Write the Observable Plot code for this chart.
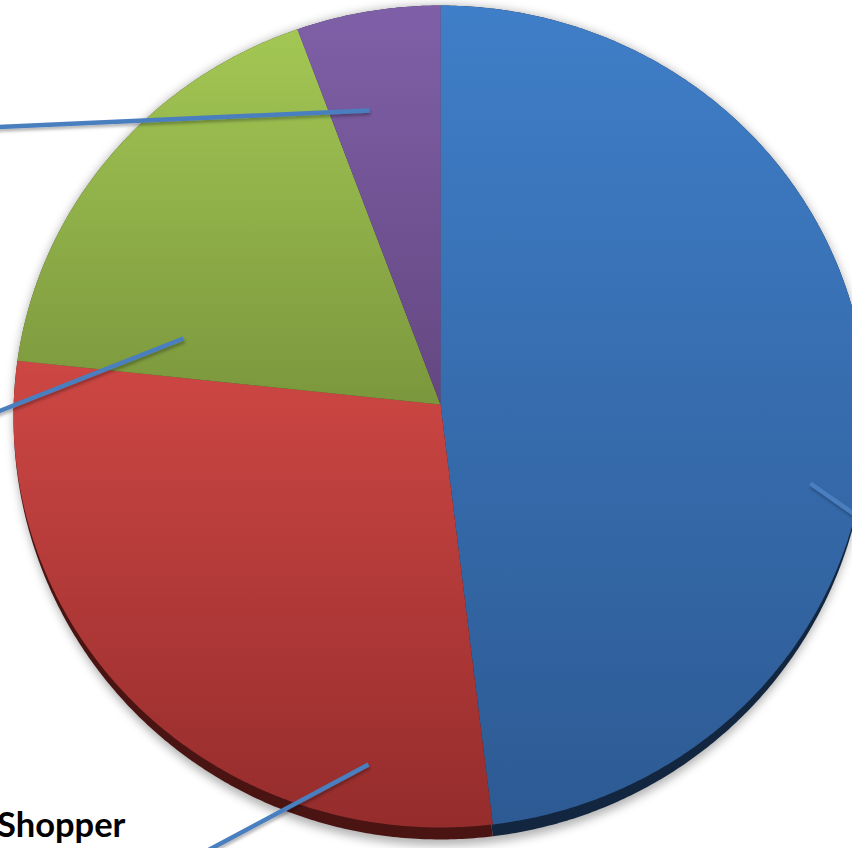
<!DOCTYPE html>
<html><head><meta charset="utf-8">
<script src="https://cdn.jsdelivr.net/npm/d3@7"></script>
<script src="https://cdn.jsdelivr.net/npm/@observablehq/plot@0.6"></script>
<style>html,body{margin:0;padding:0;background:#fff;overflow:hidden}#chart svg{display:block}</style>
</head><body><div id="chart"></div>
<script>
// ---- data ----
const categories = ["Segment A", "Shopper", "Segment C", "Segment D"];
const shares = [48.1, 28.6, 17.7, 5.6];          // percent, clockwise from 12 o'clock
const labels = ["", "Shopper", "", ""];           // only this one is inside the frame
const topColors = ["#3f7ec8", "#cd4744", "#a3c754", "#7f60a8"];
const bottomColors = ["#2d5a93", "#952c2c", "#7b973d", "#644781"];
const sideColors = ["#13263f", "#4a1413", "#3d4a1f", "#33244a"];

// ---- layout (pie units: horizontal radius = 1, apex at 0,0) ----
const RX = 1, RY = 0.9625, CY = -0.0281, K = 0.9625, DEPTH = 0.028;
const leaderStart = [[0.8665, -0.185], [-0.1686, -0.8431], [-0.602, 0.1546], [-0.1663, 0.6885]];
const leaderEnd = [[1.124, -0.365], [-0.6323, -1.091], [-1.171, -0.07], [-1.218, 0.6417]];
const labelAnchor = [null, [-0.7377, -1.014], null, null];

function rim(theta, depth = 0) {
  const t = theta * Math.PI / 180;
  const sx = Math.sin(t), sy = K * Math.cos(t);
  const cy = CY;
  const a = sx * sx / (RX * RX) + sy * sy / (RY * RY);
  const b = -2 * sy * cy / (RY * RY);
  const c = cy * cy / (RY * RY) - 1;
  const s = (-b + Math.sqrt(b * b - 4 * a * c)) / (2 * a);
  // side thickness grows toward the front (bottom) of the tilted pie
  const f = Math.pow(Math.max(0, -Math.cos(t)), 0.8);
  return [s * sx, s * sy - depth * f];
}

const total = d3.sum(shares);
let acc = 0;
const slices = shares.map((v, i) => {
  const a0 = acc / total * 360; acc += v;
  const a1 = acc / total * 360;
  return {i, cat: categories[i], a0, a1};
});

function slicePoints(depth, fillFn) {
  const pts = [];
  for (const s of slices) {
    const f = fillFn(s.i);
    pts.push({cat: s.cat, x: 0, y: -depth * 0.5, fill: f});
    const n = Math.max(2, Math.ceil((s.a1 - s.a0) / 0.5));
    for (let j = 0; j <= n; j++) {
      const [x, y] = rim(s.a0 + (s.a1 - s.a0) * j / n, depth);
      pts.push({cat: s.cat, x, y, fill: f});
    }
  }
  return pts;
}

const topPts = slicePoints(0, i => `url(#grad${i})`);
const sidePts = slicePoints(DEPTH, i => sideColors[i]);
const shadowPts = d3.range(0, 361, 1).map(a => {
  const [x, y] = rim(a, DEPTH + 0.014);
  return {x, y};
});

const leaders = categories.map((c, i) => ({cat: c, x1: leaderStart[i][0], y1: leaderStart[i][1], x2: leaderEnd[i][0], y2: leaderEnd[i][1]}));
const labelData = categories.map((c, i) => labelAnchor[i] ? {text: labels[i], x: labelAnchor[i][0], y: labelAnchor[i][1]} : null).filter(d => d);

const chart = Plot.plot({
  width: 852, height: 848, margin: 0,
  x: {domain: [-440 / 427, 412 / 427], axis: null},
  y: {domain: [-444 / 427, 404 / 427], axis: null},
  color: {type: "identity"},
  marks: [
    Plot.line(shadowPts, {x: "x", y: "y", fill: "#000", fillOpacity: 0.3, stroke: "none", ariaDescription: "shadow"}),
    Plot.line(sidePts, {x: "x", y: "y", z: "cat", fill: "fill", stroke: "none"}),
    Plot.line(topPts, {x: "x", y: "y", z: "cat", fill: "fill", stroke: "none"}),
    Plot.link(leaders, {x1: "x1", y1: "y1", x2: "x2", y2: "y2", stroke: "#4a7ebf", strokeWidth: 4.5, strokeLinecap: "butt", ariaDescription: "leaders"}),
    Plot.text(labelData, {x: "x", y: "y", text: "text", textAnchor: "end", lineAnchor: "bottom", fontSize: 34.5, fontWeight: "bold", fontFamily: "Lato, 'Open Sans', sans-serif", fill: "#000"})
  ]
});

const svg = d3.select(chart);
const defs = svg.insert("defs", ":first-child");
topColors.forEach((c, i) => {
  const g = defs.append("linearGradient").attr("id", `grad${i}`).attr("x1", 0).attr("y1", 0).attr("x2", 0).attr("y2", 1);
  g.append("stop").attr("offset", "0%").attr("stop-color", c);
  g.append("stop").attr("offset", "100%").attr("stop-color", bottomColors[i]);
});
const blur = defs.append("filter").attr("id", "blur").attr("x", "-10%").attr("y", "-10%").attr("width", "120%").attr("height", "120%");
blur.append("feGaussianBlur").attr("stdDeviation", 5);
const ds = defs.append("filter").attr("id", "ds").attr("x", "-10%").attr("y", "-10%").attr("width", "120%").attr("height", "130%");
ds.append("feDropShadow").attr("dx", 1).attr("dy", 2.5).attr("stdDeviation", 1.5).attr("flood-color", "#000").attr("flood-opacity", 0.3);
svg.selectAll("g[aria-description=shadow]").attr("filter", "url(#blur)");
svg.selectAll("g[aria-description=leaders] line, g[aria-description=leaders] path").attr("filter", "url(#ds)");
document.getElementById("chart").appendChild(chart);
</script></body></html>
